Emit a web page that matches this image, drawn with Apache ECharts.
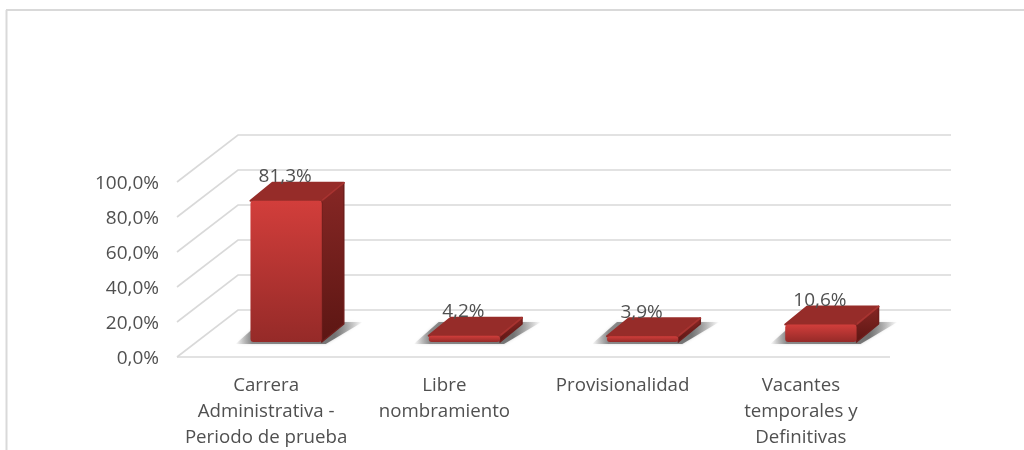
<!DOCTYPE html>
<html>
<head>
<meta charset="utf-8">
<script src="https://cdn.jsdelivr.net/npm/echarts@6/dist/echarts.min.js"></script>
<style>
  html, body { margin: 0; padding: 0; background: #fff; }
  #chart { width: 1024px; height: 450px; }
</style>
</head>
<body>
<div id="chart"></div>
<script>
var categories = [
  "Carrera\nAdministrativa -\nPeriodo de prueba",
  "Libre\nnombramiento",
  "Provisionalidad",
  "Vacantes\ntemporales y\nDefinitivas"
];
var values = [81.3, 4.2, 3.9, 10.6];
var tickValues = [0, 20, 40, 60, 80, 100];

// fake 3d offsets, in pixels
var wallDx = 61, wallDy = -47;
var floorDx = 20, floorDy = -15;
var depthDx = 22, depthDy = -18;
var bevel = 1;

var font = "'Open Sans', sans-serif";
var gridColor = "#d9d9d9";
var textColor = "#505050";

function pct(v) {
  return v.toFixed(1).replace(".", ",") + "%";
}

function renderWall(params, api) {
  var rect = params.coordSys;
  var y = api.coord([0, api.value(1)])[1];
  var children = [{
    type: "polyline",
    shape: { points: [[rect.x, y], [rect.x + wallDx, y + wallDy], [rect.x + rect.width + wallDx, y + wallDy]] },
    style: { fill: null, stroke: gridColor, lineWidth: 1.6 }
  }];
  if (api.value(1) === 0) {
    children.push({
      type: "line",
      shape: { x1: rect.x, y1: y, x2: rect.x + rect.width, y2: y },
      style: { stroke: gridColor, lineWidth: 1.6 }
    });
  }
  return { type: "group", children: children };
}

function renderBar(params, api) {
  var top = api.coord([api.value(0), api.value(1)]);
  var base = api.coord([api.value(0), 0]);
  var w = api.size([1, 0])[0] * 0.4;
  var x0 = top[0] - w / 2 + floorDx;
  var x1 = x0 + w;
  var yb = base[1] + floorDy;
  var yt = top[1] + floorDy + bevel;

  return {
    type: "group",
    children: [
      {
        // floor shadow
        type: "polygon",
        shape: { points: [[x0 - 15, yb + 2], [x1 + 4, yb + 2], [x1 + depthDx + 19, yb + depthDy - 2], [x0 + 10, yb + depthDy - 2]] },
        style: {
          fill: new echarts.graphic.LinearGradient(0, 0, 1, 0, [
            { offset: 0, color: "rgba(90,90,90,0)" },
            { offset: 0.13, color: "rgba(90,90,90,0.65)" },
            { offset: 0.78, color: "rgba(90,90,90,0.8)" },
            { offset: 1, color: "rgba(90,90,90,0)" }
          ]),
          shadowBlur: 3,
          shadowColor: "rgba(120,120,120,0.4)"
        }
      },
      {
        // side
        type: "polygon",
        shape: { points: [[x1, yt], [x1 + depthDx, yt + depthDy], [x1 + depthDx, yb + depthDy], [x1, yb]] },
        style: {
          fill: new echarts.graphic.LinearGradient(0, 0, 0, 1, [
            { offset: 0, color: "#872725" },
            { offset: 1, color: "#5c1613" }
          ]),
          stroke: "#6f1e1c",
          lineWidth: 1.5,
          lineJoin: "round"
        }
      },
      {
        // top
        type: "polygon",
        shape: { points: [[x0, yt], [x0 + depthDx, yt + depthDy], [x1 + depthDx, yt + depthDy], [x1, yt]] },
        style: { fill: "#962c29", stroke: "#962c29", lineWidth: 2, lineJoin: "round" }
      },
      {
        // lighter edge where the top meets the side
        type: "line",
        shape: { x1: x1 + 1, y1: yt - 1, x2: x1 + depthDx, y2: yt + depthDy },
        style: { stroke: "#a83431", lineWidth: 1.5, lineCap: "round" }
      },
      {
        // front
        type: "rect",
        shape: { x: x0, y: yt, width: w, height: yb - yt, r: 3 },
        style: {
          fill: new echarts.graphic.LinearGradient(0, 0, 0, 1, [
            { offset: 0, color: "#d23e3b" },
            { offset: 1, color: "#952a28" }
          ])
        }
      },
      {
        type: "text",
        style: {
          text: pct(api.value(1)),
          x: top[0] + floorDx - 1,
          y: yt + depthDy - 6,
          align: "center",
          verticalAlign: "middle",
          fill: textColor,
          font: "19px " + font
        }
      }
    ]
  };
}

var chart = echarts.init(document.getElementById("chart"));
chart.setOption({
  animation: false,
  backgroundColor: "#fff",
  grid: { left: 177, right: 134, top: 182, bottom: 93, outerBoundsMode: "none" },
  graphic: [
    { type: "line", shape: { x1: 6, y1: 10, x2: 1024, y2: 10 }, style: { stroke: gridColor, lineWidth: 2 } },
    { type: "line", shape: { x1: 6.5, y1: 10, x2: 6.5, y2: 450 }, style: { stroke: gridColor, lineWidth: 2 } }
  ],
  xAxis: {
    type: "category",
    data: categories,
    axisLine: { show: false },
    axisTick: { show: false },
    axisLabel: {
      interval: 0,
      margin: 16,
      color: textColor,
      fontFamily: font,
      fontSize: 18.7,
      lineHeight: 26
    }
  },
  yAxis: {
    type: "value",
    min: 0,
    max: 100,
    interval: 20,
    axisLine: { show: false },
    axisTick: { show: false },
    splitLine: { show: false },
    axisLabel: {
      margin: 18,
      color: textColor,
      fontFamily: font,
      fontSize: 19,
      verticalAlign: "top",
      lineHeight: 4,
      formatter: pct
    }
  },
  series: [
    {
      type: "custom",
      renderItem: renderWall,
      data: tickValues.map(function(v) { return [0, v]; }),
      silent: true,
      clip: false,
      z: 1
    },
    {
      type: "custom",
      renderItem: renderBar,
      data: values.map(function(v, i) { return [i, v]; }),
      silent: true,
      clip: false,
      z: 2
    }
  ]
});
</script>
</body>
</html>
